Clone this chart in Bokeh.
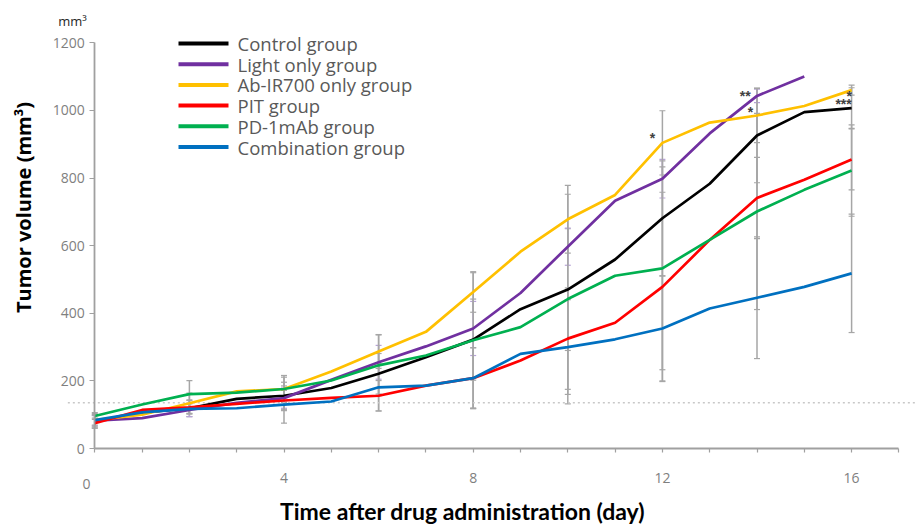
import math
from bokeh.plotting import figure
from bokeh.models import (ColumnDataSource, Whisker, TeeHead, FixedTicker, Label)
from bokeh.core.properties import value
from bokeh.embed import file_html
from bokeh.resources import INLINE

# ---------------- data ----------------
days = list(range(17))
control = [80, 106, 119, 147, 156, 179, 221, 270, 322, 412, 470, 559, 681, 783, 926, 995, 1007]
light = [82, 90, 114, 135, 149, 203, 255, 302, 355, 460, 597, 733, 798, 932, 1043, 1100]
abir = [84, 100, 134, 169, 176, 228, 287, 345, 463, 582, 678, 750, 904, 964, 985, 1013, 1060]
pit = [75, 114, 122, 132, 142, 150, 156, 186, 208, 260, 325, 372, 478, 617, 741, 795, 855]
pd1 = [96, 130, 161, 165, 176, 201, 246, 275, 320, 359, 442, 511, 533, 617, 701, 765, 822]
combo = [84, 107, 117, 119, 130, 139, 181, 186, 208, 280, 300, 323, 355, 414, 446, 478, 518]

sd_days = [0, 2, 4, 6, 8, 10, 12, 14, 16]
control_sd = [20, 25, 40, 60, 120, 180, 170, 140, 60]
light_sd = [15, 20, 30, 50, 80, 55, 57, 20]
abir_sd = [15, 30, 40, 50, 60, 100, 95, 80, 15]
pit_sd = [15, 20, 30, 45, 90, 150, 280, 120, 90]
pd1_sd = [10, 40, 35, 90, 200, 310, 300, 290, 135]
combo_sd = [20, 15, 55, 70, 90, 140, 155, 180, 175]

names = ["Control group", "Light only group", "Ab-IR700 only group",
         "PIT group", "PD-1mAb group", "Combination group"]
colors = ["#000000", "#7030a0", "#ffc000", "#ff0000", "#00b050", "#0070c0"]
means = [control, light, abir, pit, pd1, combo]
sds = [control_sd, light_sd, abir_sd, pit_sd, pd1_sd, combo_sd]
bar_colors = ["#a6a6a6", "#b7a3d6", "#a6a6a6", "#a6a6a6", "#a6a6a6", "#a6a6a6"]

ref_level = 135
ref_span = [-0.57, 17.4]

star_day = [11.79, 13.75, 13.86, 15.95, 15.83]
star_val = [917, 1044, 994, 1044, 1018]
star_txt = ["*", "**", "*", "*", "***"]

x_tick_labels = {4: "4", 8: "8", 12: "12", 16: "16"}
y_ticks = [0, 200, 400, 600, 800, 1000, 1200]

# ---------------- layout (pixels) ----------------
W, H = 918, 525
X0_PX, PX_PER_DAY = 94.3, 47.3        # day 0 position, pixels per day
Y0_PX, PX_PER_UNIT = 448.0, 405.7 / 1200

def px_to_day(px):
    return (px - X0_PX) / PX_PER_DAY

def px_to_val(py):
    return (Y0_PX - py) / PX_PER_UNIT

p = figure(width=W, height=H,
           x_range=(px_to_day(0), px_to_day(W)), y_range=(px_to_val(H), px_to_val(0)),
           output_backend="svg", toolbar_location=None, title=None,
           min_border_left=0, min_border_right=0, min_border_top=0, min_border_bottom=0)
p.outline_line_color = None
p.grid.visible = False
p.background_fill_color = "white"
p.border_fill_color = "white"

axis_col = "#a0a0a0"
# x axis
p.xaxis.fixed_location = 0
p.xaxis.ticker = FixedTicker(ticks=list(range(18)))
p.xaxis.major_label_overrides = {i: x_tick_labels.get(i, "") for i in range(18)}
p.xaxis.bounds = (0, 17)
p.xaxis.axis_line_color = axis_col
p.xaxis.axis_line_width = 1.8
p.xaxis.major_tick_line_color = axis_col
p.xaxis.major_tick_line_width = 1.2
p.xaxis.major_tick_in = 0
p.xaxis.major_tick_out = 4
p.xaxis.minor_tick_line_color = None
p.xaxis.major_label_standoff = 20
p.xaxis.major_label_text_font = "Open Sans"
p.xaxis.major_label_text_font_size = "14px"
p.xaxis.major_label_text_color = "#7f7f7f"

# y axis
p.yaxis.fixed_location = 0
p.yaxis.ticker = FixedTicker(ticks=y_ticks)
p.yaxis.bounds = (0, 1200)
p.yaxis.axis_line_color = axis_col
p.yaxis.axis_line_width = 1.8
p.yaxis.major_tick_line_color = axis_col
p.yaxis.major_tick_line_width = 1.2
p.yaxis.major_tick_in = 0
p.yaxis.major_tick_out = 5
p.yaxis.minor_tick_line_color = None
p.yaxis.major_label_standoff = 5
p.yaxis.major_label_text_font = "Open Sans"
p.yaxis.major_label_text_font_size = "14px"
p.yaxis.major_label_text_color = "#7f7f7f"

# reference dotted line
p.segment(x0=[ref_span[0]], y0=[ref_level], x1=[ref_span[1]], y1=[ref_level],
          line_color="#c8c8c8", line_width=1.5, line_dash="2 3")

# error bars
for m, s, bc in zip(means, sds, bar_colors):
    base = sd_days[:len(s)]
    mu = [m[d] for d in base]
    src = ColumnDataSource(dict(base=base,
                                upper=[a + b for a, b in zip(mu, s)],
                                lower=[a - b for a, b in zip(mu, s)]))
    w = Whisker(base="base", upper="upper", lower="lower", source=src,
                line_color=bc, line_width=1.5,
                upper_head=TeeHead(size=6, line_color=bc, line_width=1.2),
                lower_head=TeeHead(size=6, line_color=bc, line_width=1.2))
    p.add_layout(w)

# lines
for m, c in zip(means, colors):
    p.line(days[:len(m)], m, line_color=c, line_width=2.7)

# significance marks
p.text(x=star_day, y=star_val, text=star_txt, text_font=value("Liberation Sans"),
       text_font_size="14px", text_font_style="bold", text_color="#404040",
       text_align="center", text_baseline="middle")

# legend (drawn manually for tight row spacing)
LEG_X0, LEG_X1, LEG_TX = 178, 228, 237
LEG_Y0, LEG_DY = 43, 20.7
rows_y = [px_to_val(LEG_Y0 + LEG_DY * k) for k in range(len(names))]
p.segment(x0=[px_to_day(LEG_X0)] * len(names), x1=[px_to_day(LEG_X1)] * len(names),
          y0=rows_y, y1=rows_y, line_color=colors, line_width=4)
p.text(x=[px_to_day(LEG_TX)] * len(names), y=rows_y, text=names,
       text_font=value("Open Sans"), text_font_size="18.5px", text_color="#595959",
       text_align="left", text_baseline="middle")

# texts
p.add_layout(Label(x=0, y=0, x_offset=72 - X0_PX, y_offset=Y0_PX - 20, text="mm³",
                   text_font="Open Sans", text_font_size="13px", text_color="#262626",
                   text_align="center", text_baseline="middle"))
p.add_layout(Label(x=0, y=0, x_offset=23 - X0_PX, y_offset=Y0_PX - 207,
                   text="Tumor volume (mm³)", angle=math.pi / 2,
                   text_font="Open Sans", text_font_size="20px",
                   text_font_style="bold", text_color="#000000",
                   text_align="center", text_baseline="middle"))
p.add_layout(Label(x=0, y=0, x_offset=462 - X0_PX, y_offset=Y0_PX - 510,
                   text="Time after drug administration (day)",
                   text_font="Lato", text_font_size="23px",
                   text_font_style="bold", text_color="#000000",
                   text_align="center", text_baseline="middle"))
p.add_layout(Label(x=0, y=0, x_offset=86 - X0_PX, y_offset=Y0_PX - 483, text="0",
                   text_font="Open Sans", text_font_size="14px", text_color="#7f7f7f",
                   text_align="center", text_baseline="middle"))

open("out.html", "w").write(file_html(p, INLINE))
